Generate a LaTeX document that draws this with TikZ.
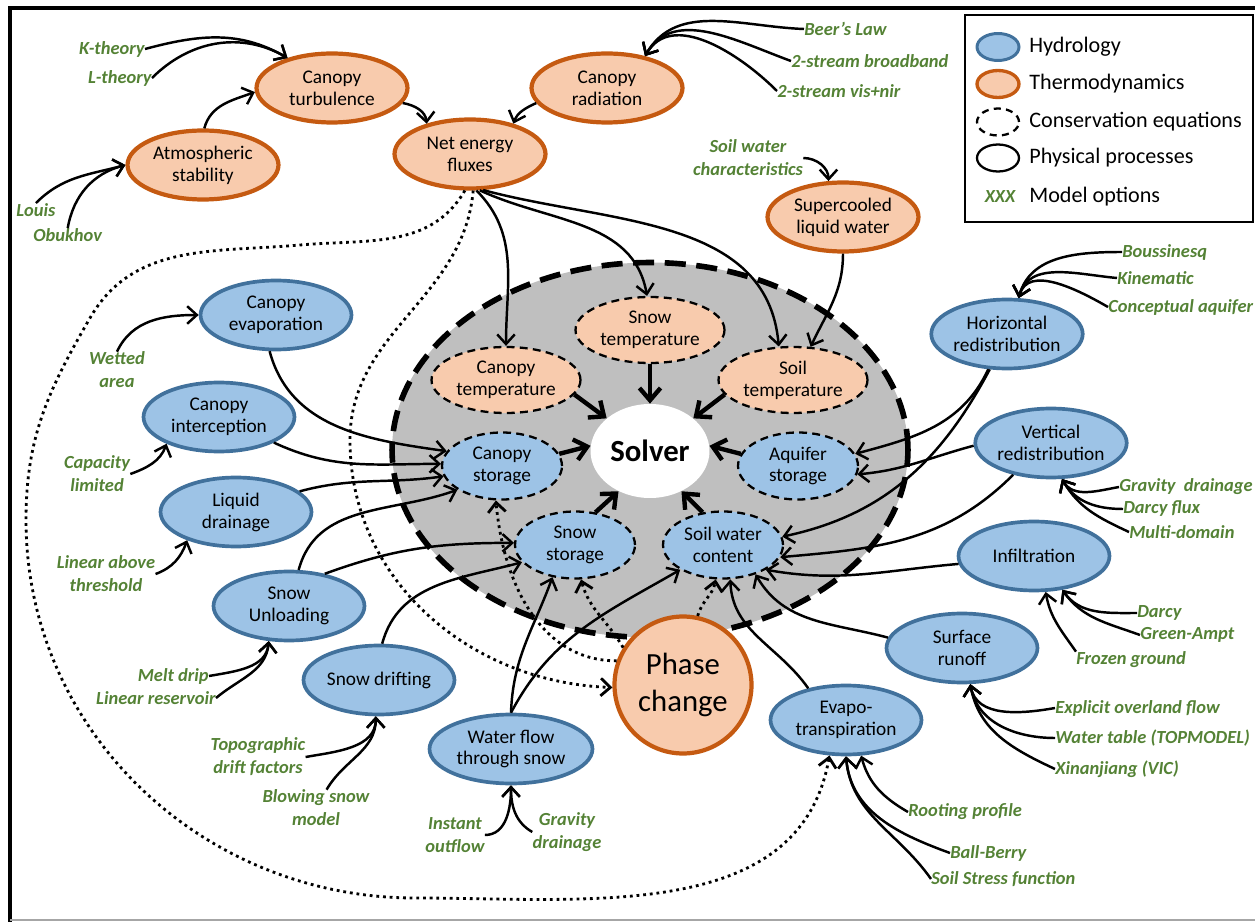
\documentclass[tikz,border=0pt]{standalone}
\usepackage{fontspec}
\setmainfont{Carlito}
\usetikzlibrary{shapes.geometric,arrows.meta}
\definecolor{hydrofill}{HTML}{9DC3E6}
\definecolor{hydroline}{HTML}{41719C}
\definecolor{thermofill}{HTML}{F8CBAD}
\definecolor{thermoline}{HTML}{C55A11}
\definecolor{optgreen}{HTML}{548235}
\definecolor{domaingray}{HTML}{BFBFBF}
\tikzset{
  procnode/.style={ellipse, align=center, inner sep=0pt, minimum width=3.02cm, minimum height=1.38cm, font=\fontsize{11}{12.5}\selectfont},
  hydro/.style={procnode, draw=hydroline, fill=hydrofill, line width=2.1pt},
  thermo/.style={procnode, draw=thermoline, fill=thermofill, line width=2.4pt},
  consnode/.style={ellipse, align=center, inner sep=0pt, draw=black, line width=1.3pt, dash pattern=on 4.5pt off 3pt, font=\fontsize{11}{12.5}\selectfont},
  conshydro/.style={consnode, fill=hydrofill, minimum width=2.4cm, minimum height=1.34cm},
  consthermo/.style={consnode, fill=thermofill, minimum width=2.98cm, minimum height=1.32cm},
  modelopt/.style={text=optgreen, font=\fontsize{10.5}{13}\selectfont\bfseries\itshape, inner sep=0pt, align=center},
  legicon/.style={ellipse, minimum width=0.84cm, minimum height=0.54cm, inner sep=0pt},
  legtext/.style={anchor=west, inner sep=0pt, font=\fontsize{12.6}{14}\selectfont},
  flowlink/.style={-{Straight Barb[length=5.5pt,width=10pt]}, draw=black, line width=1.4pt},
  solverfeed/.style={-{Straight Barb[length=7pt,width=12pt]}, draw=black, line width=2.5pt},
  phaselink/.style={-{Straight Barb[length=5.5pt,width=10pt]}, draw=black, line width=1.6pt, dash pattern=on 1.6pt off 2.2pt}
}
\begin{document}
\begin{tikzpicture}[x=0.02cm, y=0.02cm]
\useasboundingbox (0,0) rectangle (1255,-922);
\draw[line width=2.8pt] (10,-922) -- (10,-8) -- (1255,-8);
\draw[black!35, line width=1pt] (10,-920) -- (1255,-920);

\node[ellipse, fill=domaingray, draw=black, line width=3.2pt, dash pattern=on 12pt off 6pt, minimum width=10.32cm, minimum height=7.5cm] (domain) at (650,-450) {};
\node[ellipse, fill=white, inner sep=0pt, minimum width=2.38cm, minimum height=1.88cm, font=\fontsize{17.5}{21}\selectfont\bfseries] (solver) at (650,-451) {Solver};

\node[consthermo] (cantemp) at (506,-380) {Canopy\\temperature};
\node[consthermo] (snowtemp) at (650,-330) {Snow\\temperature};
\node[consthermo] (soiltemp) at (793,-380) {Soil\\temperature};
\node[conshydro] (canstore) at (502,-466) {Canopy\\storage};
\node[conshydro] (aqstore) at (798,-466) {Aquifer\\storage};
\node[conshydro] (snowstore) at (575,-545) {Snow\\storage};
\node[conshydro] (soilwater) at (723,-545) {Soil water\\content};

\node[thermo] (turb) at (332,-88) {Canopy\\turbulence};
\node[thermo] (atmstab) at (203,-165) {Atmospheric\\stability};
\node[thermo] (rad) at (607,-88) {Canopy\\radiation};
\node[thermo] (netflux) at (470,-154) {Net energy\\fluxes};
\node[thermo] (supercool) at (843,-217) {Supercooled\\liquid water};
\node[thermo, minimum width=2.74cm, minimum height=2.74cm, font=\fontsize{17.5}{21}\selectfont] (phase) at (683,-685) {Phase\\change};

\node[hydro] (canevap) at (276,-315) {Canopy\\evaporation};
\node[hydro] (canint) at (219,-417) {Canopy\\interception};
\node[hydro] (liqdrain) at (236,-512) {Liquid\\drainage};
\node[hydro] (unload) at (289,-606) {Snow\\Unloading};
\node[hydro] (drift) at (379,-680) {Snow drifting};
\node[hydro, minimum width=3.26cm] (wflow) at (511,-749) {Water flow\\through snow};
\node[hydro] (horiz) at (1007,-334) {Horizontal\\redistribution};
\node[hydro] (vert) at (1051,-443) {Vertical\\redistribution};
\node[hydro] (infil) at (1034,-556) {Infiltration};
\node[hydro] (runoff) at (962,-648) {Surface\\runoff};
\node[hydro] (evapo) at (846,-720) {Evapo-\\transpiration};

\node[modelopt, anchor=east] (ktheory) at (145,-49) {K-theory};
\node[modelopt, anchor=east] (ltheory) at (152,-78) {L-theory};
\node[modelopt, anchor=west] (louis) at (16,-210) {Louis};
\node[modelopt, anchor=west] (obukhov) at (33,-235) {Obukhov};
\node[modelopt, anchor=west] (beer) at (804,-29) {Beer’s Law};
\node[modelopt, anchor=west] (bband) at (791,-61) {2-stream broadband};
\node[modelopt, anchor=west] (visnir) at (777,-91) {2-stream vis+nir};
\node[modelopt] (swchar) at (748,-158) {Soil water\\characteristics};
\node[modelopt] (wetted) at (117,-370) {Wetted\\area};
\node[modelopt] (capacity) at (97,-474) {Capacity\\limited};
\node[modelopt] (linthr) at (106,-574) {Linear above\\threshold};
\node[modelopt, anchor=east] (meltdrip) at (209,-676) {Melt drip};
\node[modelopt, anchor=east] (linres) at (216,-698) {Linear reservoir};
\node[modelopt] (topo) at (258,-757) {Topographic\\drift factors};
\node[modelopt] (blowing) at (316,-808) {Blowing snow\\model};
\node[modelopt] (instant) at (455,-835) {Instant\\outflow};
\node[modelopt] (gravity) at (567,-832) {Gravity\\drainage};
\node[modelopt, anchor=west] (bouss) at (1122,-252) {Boussinesq};
\node[modelopt, anchor=west] (kinem) at (1117,-278) {Kinematic};
\node[modelopt, anchor=west] (concaq) at (1108,-307) {Conceptual aquifer};
\node[modelopt, anchor=west] (gravdr) at (1119,-487) {Gravity~~drainage};
\node[modelopt, anchor=west] (darcyflux) at (1123,-509) {Darcy flux};
\node[modelopt, anchor=west] (multidom) at (1129,-532) {Multi-domain};
\node[modelopt, anchor=west] (darcy) at (1137,-613) {Darcy};
\node[modelopt, anchor=west] (greenampt) at (1140,-635) {Green-Ampt};
\node[modelopt, anchor=west] (frozen) at (1076,-660) {Frozen ground};
\node[modelopt, anchor=west] (explicit) at (1055,-708) {Explicit overland flow};
\node[modelopt, anchor=west] (wtable) at (1055,-738) {Water table (TOPMODEL)};
\node[modelopt, anchor=west] (xinan) at (1055,-769) {Xinanjiang (VIC)};
\node[modelopt, anchor=west] (rooting) at (908,-812) {Rooting profile};
\node[modelopt, anchor=west] (ballberry) at (950,-853) {Ball-Berry};
\node[modelopt, anchor=west] (soilstress) at (931,-879) {Soil Stress function};

\draw[line width=0.9pt] (965,-15) rectangle (1253,-222);
\node[legicon, draw=hydroline, fill=hydrofill, line width=1.7pt] (leghydro) at (998,-47) {};
\node[legicon, draw=thermoline, fill=thermofill, line width=1.9pt] (legthermo) at (998,-84) {};
\node[legicon, draw=black, line width=1.3pt, dash pattern=on 4pt off 3pt] (legcons) at (998,-122) {};
\node[legicon, draw=black, line width=1.3pt] (legproc) at (998,-158) {};
\node[modelopt] (legopt) at (1000,-197) {XXX};
\node[legtext] (legtxthydro) at (1029,-47) {Hydrology};
\node[legtext] (legtxtthermo) at (1029,-84) {Thermodynamics};
\node[legtext] (legtxtcons) at (1029,-122) {Conservation equations};
\node[legtext] (legtxtproc) at (1029,-158) {Physical processes};
\node[legtext] (legtxtopt) at (1029,-197) {Model options};

\draw [flowlink] (ktheory.east) to[out=15, in=150] (turb.146);
\draw [flowlink] (ltheory.east) to[out=45, in=150] (turb.146);
\draw [flowlink] (atmstab.88) to[out=75, in=200] (turb.183);
\draw [flowlink] (louis.north) to[out=45, in=195] (atmstab.180);
\draw [flowlink] (obukhov.north) to[out=80, in=195] (atmstab.180);
\draw [flowlink] (turb.-12) to[out=-10, in=95] (netflux.145);
\draw [flowlink] (rad.192) to[out=205, in=70] (netflux.35);
\draw [flowlink] (beer.west) to[out=178, in=60] (rad.40);
\draw [flowlink] (bband.west) to[out=160, in=60] (rad.40);
\draw [flowlink] (visnir.west) to[out=135, in=60] (rad.40);
\draw [flowlink] (swchar.east) to[out=0, in=90] (supercool.112);
\draw [flowlink] (wetted.north) to[out=65, in=180] (canevap.180);
\draw [flowlink] (capacity.east) to[out=20, in=-110] (canint.207);
\draw [flowlink] (linthr.east) to[out=20, in=-110] (liqdrain.210);
\draw [flowlink] (meltdrip.east) to[out=10, in=-95] (unload.240);
\draw [flowlink] (linres.east) to[out=40, in=-95] (unload.240);
\draw [flowlink] (topo.east) to[out=10, in=-90] (drift.265);
\draw [flowlink] (blowing.60) to[out=60, in=-90] (drift.265);
\draw [flowlink] (instant.east) to[out=0, in=-90] (wflow.south);
\draw [flowlink] (gravity.west) to[out=150, in=-90] (wflow.south);
\draw [flowlink] (rooting.west) to[out=150, in=-75] (evapo.-67);
\draw [flowlink] (ballberry.west) to[out=160, in=-85] (evapo.-90);
\draw [flowlink] (soilstress.west) to[out=125, in=-85] (evapo.-90);
\draw [flowlink] (explicit.west) to[out=190, in=-80] (runoff.-77);
\draw [flowlink] (wtable.west) to[out=180, in=-80] (runoff.-77);
\draw [flowlink] (xinan.west) to[out=155, in=-80] (runoff.-77);
\draw [flowlink] (darcy.west) to[out=180, in=-55] (infil.-50);
\draw [flowlink] (greenampt.west) to[out=160, in=-55] (infil.-50);
\draw [flowlink] (frozen.north west) to[out=125, in=-80] (infil.-72);
\draw [flowlink] (gravdr.west) to[out=190, in=-60] (vert.-73);
\draw [flowlink] (darcyflux.west) to[out=180, in=-60] (vert.-73);
\draw [flowlink] (multidom.west) to[out=155, in=-60] (vert.-73);
\draw [flowlink] (bouss.west) to[out=180, in=75] (horiz.72);
\draw [flowlink] (kinem.west) to[out=175, in=75] (horiz.72);
\draw [flowlink] (concaq.west) to[out=150, in=75] (horiz.72);

\draw [flowlink] (netflux.-80) to[out=-45, in=90] (cantemp.north);
\draw [flowlink] (netflux.-75) to[out=-25, in=100] (snowtemp.95);
\draw [flowlink] (netflux.-70) to[out=-15, in=95] (soiltemp.113);
\draw [flowlink] (supercool.south) to[out=-90, in=65] (soiltemp.62);

\draw [solverfeed] (cantemp.-12) -- (solver.143);
\draw [solverfeed] (snowtemp.south) -- (solver.north);
\draw [solverfeed] (soiltemp.192) -- (solver.37);
\draw [solverfeed] (canstore.12) -- (solver.175);
\draw [solverfeed] (aqstore.168) -- (solver.5);
\draw [solverfeed] (snowstore.58) -- (solver.-128);
\draw [solverfeed] (soilwater.122) -- (solver.-52);

\draw [flowlink] (canevap.-100) to[out=-75, in=172] (canstore.165);
\draw [flowlink] (canint.-25) to[out=-25, in=180] (canstore.178);
\draw [flowlink] (liqdrain.18) to[out=15, in=188] (canstore.190);
\draw [flowlink] (unload.75) to[out=75, in=200] (canstore.208);
\draw [flowlink] (unload.42) to[out=20, in=180] (snowstore.178);
\draw [flowlink] (drift.85) to[out=75, in=195] (snowstore.198);
\draw [flowlink] (wflow.north) to[out=88, in=-110] (snowstore.-125);
\draw [flowlink] (wflow.north) to[out=62, in=210] (soilwater.210);
\draw [flowlink] (horiz.-118) to[out=-115, in=15] (aqstore.12);
\draw [flowlink] (horiz.-116) to[out=-118, in=12] (soilwater.8);
\draw [flowlink] (vert.182) to[out=195, in=5] (aqstore.-8);
\draw [flowlink] (vert.-140) to[out=-135, in=5] (soilwater.-12);
\draw [flowlink] (infil.186) to[out=185, in=-10] (soilwater.-30);
\draw [flowlink] (runoff.172) to[out=165, in=-60] (soilwater.-42);
\draw [flowlink] (evapo.140) to[out=125, in=-88] (soilwater.-78);

\draw [phaselink] (netflux.-98) to[out=-120, in=5] (300,-245) to[out=185, in=60] (90,-318) to[out=240, in=90] (26,-520) to[out=-90, in=180] (415,-898) to[out=0, in=-100] (evapo.-115);
\draw [phaselink] (netflux.-85) to[out=-95, in=90] (350,-440) to[out=-90, in=178] (phase.182);
\draw [phaselink] (phase.160) to[out=180, in=-85] (canstore.-100);
\draw [phaselink] (phase.148) to[out=120, in=-75] (snowstore.-80);
\draw [phaselink] (phase.78) to[out=75, in=-100] (soilwater.-102);
\end{tikzpicture}
\end{document}
